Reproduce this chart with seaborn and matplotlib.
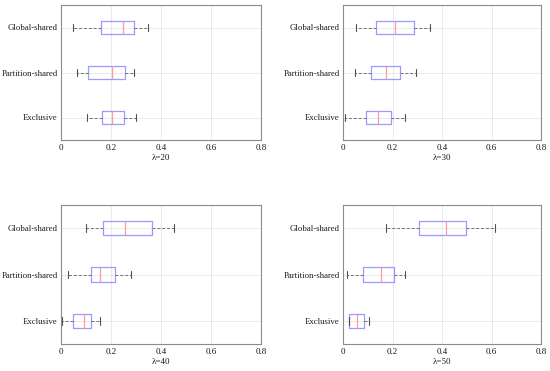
import numpy as np
import pandas as pd
import matplotlib
matplotlib.use('Agg')
import matplotlib.pyplot as plt
import seaborn as sns

# categories, top to bottom
CATEGORIES = ['Global-shared', 'Partition-shared', 'Exclusive']
LAMBDAS = [20, 30, 40, 50]

# five-number summaries (min, q1, median, q3, max)
lam20_global = [0.047, 0.159, 0.247, 0.291, 0.348]
lam20_partition = [0.063, 0.107, 0.205, 0.257, 0.291]
lam20_exclusive = [0.104, 0.165, 0.204, 0.251, 0.299]

lam30_global = [0.051, 0.132, 0.210, 0.286, 0.352]
lam30_partition = [0.050, 0.113, 0.175, 0.229, 0.294]
lam30_exclusive = [0.009, 0.093, 0.140, 0.194, 0.249]

lam40_global = [0.099, 0.169, 0.256, 0.365, 0.452]
lam40_partition = [0.029, 0.121, 0.155, 0.217, 0.281]
lam40_exclusive = [0.005, 0.049, 0.091, 0.121, 0.156]

lam50_global = [0.175, 0.308, 0.415, 0.497, 0.614]
lam50_partition = [0.015, 0.082, 0.155, 0.206, 0.249]
lam50_exclusive = [0.024, 0.024, 0.058, 0.083, 0.104]

PANELS = {
    20: [lam20_global, lam20_partition, lam20_exclusive],
    30: [lam30_global, lam30_partition, lam30_exclusive],
    40: [lam40_global, lam40_partition, lam40_exclusive],
    50: [lam50_global, lam50_partition, lam50_exclusive],
}

X_TICKS = [0, 0.2, 0.4, 0.6, 0.8]
X_TICK_LABELS = ['0', '0.2', '0.4', '0.6', '0.8']

sns.set_theme(style='white')
plt.rcParams['font.family'] = ['Liberation Serif', 'DejaVu Serif']
plt.rcParams['text.color'] = '#1a1a1a'
plt.rcParams['axes.labelcolor'] = '#1a1a1a'
plt.rcParams['xtick.color'] = '#1a1a1a'
plt.rcParams['ytick.color'] = '#1a1a1a'

fig = plt.figure(figsize=(5.5, 3.71), dpi=100)

W, H = 550, 371
# axes boxes in pixels: left, top, right, bottom
boxes = {
    20: (61, 5, 261, 140),
    30: (343, 5, 541, 140),
    40: (61, 205, 261, 344),
    50: (343, 205, 541, 344),
}

for lam in LAMBDAS:
    l, t, r, b = boxes[lam]
    ax = fig.add_axes([l / W, 1 - b / H, (r - l) / W, (b - t) / H])

    rows = []
    for cat, vals in zip(CATEGORIES, PANELS[lam]):
        for v in vals:
            rows.append({'category': cat, 'value': v})
    df = pd.DataFrame(rows)

    sns.boxplot(
        data=df, x='value', y='category', order=CATEGORIES, ax=ax,
        orient='h', whis=(0, 100), width=0.31, fill=False,
        showfliers=False, linewidth=0.8,
        boxprops=dict(color='#9a9aff', linewidth=0.9),
        medianprops=dict(color='#ff9a9a', linewidth=0.9),
        whiskerprops=dict(color='#707070', linestyle=(0, (3, 2)), linewidth=0.7),
        capprops=dict(color='#505050', linewidth=0.8),
        capwidths=0.16,
    )

    ax.set_xlim(0, 0.8)
    ax.set_ylim(2.5, -0.5)
    ax.set_xticks(X_TICKS)
    ax.set_xticklabels(X_TICK_LABELS)
    ax.set_xlabel('\u03bb=%d' % lam, fontsize=6.5, labelpad=1)
    ax.set_ylabel('')
    ax.grid(True, color='#e6e6e6', linewidth=0.6)
    ax.set_axisbelow(True)
    ax.tick_params(axis='x', length=0, labelsize=6.5, pad=3)
    ax.tick_params(axis='y', length=0, labelsize=6.3, pad=2.5)
    for s in ax.spines.values():
        s.set_color('#8c8c8c')
        s.set_linewidth(0.8)

plt.savefig('out.png', dpi=100)
